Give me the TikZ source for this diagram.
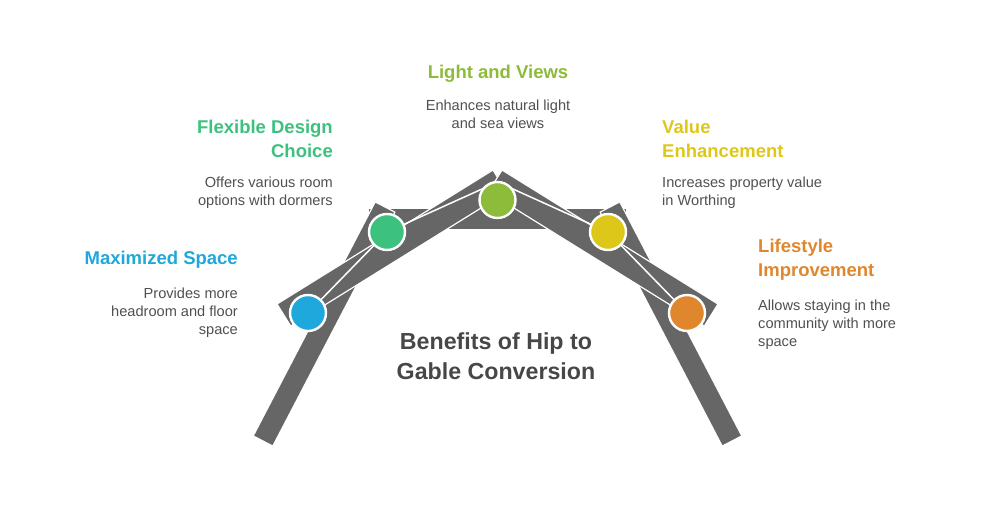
\documentclass[tikz,border=0pt]{standalone}
\usepackage{fontspec}
\setmainfont{Liberation Sans}
\definecolor{barg}{HTML}{666666}
\definecolor{cblue}{HTML}{1EA8DB}
\definecolor{cgreen}{HTML}{3CC17E}
\definecolor{clime}{HTML}{8DBB3A}
\definecolor{cyellow}{HTML}{DDC81A}
\definecolor{corange}{HTML}{E0872E}
\definecolor{btext}{HTML}{505050}
\definecolor{ttext}{HTML}{474747}
\tikzset{
  bar/.style={fill=barg, draw=white, line width=1.2pt, line join=miter},
  dot/.style={circle, draw=white, line width=2.4pt, minimum size=36pt, inner sep=0pt},
  link/.style={draw=white, line width=1.5pt, line join=round},
  head/.style={inner sep=0pt, font=\bfseries\fontsize{18.5}{24}\selectfont},
  body/.style={inner sep=0pt, text=btext, font=\fontsize{14.6}{18}\selectfont},
  ttl/.style={inner sep=0pt, text=ttext, align=center, font=\bfseries\fontsize{23.2}{30}\selectfont}
}
\begin{document}
\begin{tikzpicture}[x=1pt,y=-1pt]
\useasboundingbox (0,0) rectangle (996,528);
% beam
\fill[barg] (368,208) rectangle (627,230);
\draw[white, line width=1.2pt] (368,208) rectangle (627,230);
% legs
\draw[bar] (253.2,435.9) -- (272.8,446.1) -- (394.8,212.1) -- (375.2,201.9) -- cycle;
\draw[bar] (741.8,435.9) -- (722.2,446.1) -- (600.2,212.1) -- (619.8,201.9) -- cycle;
% slopes
\draw[bar] (277,304) -- (493,170) -- (506.7,192.1) -- (290.7,326.1) -- cycle;
\draw[bar] (718,304) -- (502,170) -- (488.3,192.1) -- (704.3,326.1) -- cycle;
% circle positions
\coordinate (p1) at (308,313);
\coordinate (p2) at (387,232);
\coordinate (p3) at (497.5,200);
\coordinate (p4) at (608,232);
\coordinate (p5) at (687,313);
\coordinate (ap) at (497.5,182);
% links
\draw[link] (p1) -- (p2) -- (ap) -- (p4) -- (p5);
% circles
\node[dot, fill=cblue]   (c1) at (p1) {};
\node[dot, fill=cgreen]  (c2) at (p2) {};
\node[dot, fill=clime]   (c3) at (p3) {};
\node[dot, fill=cyellow] (c4) at (p4) {};
\node[dot, fill=corange] (c5) at (p5) {};
% texts
\node[head, text=clime, anchor=north] (h3) at (498,65) {Light and Views};
\node[body, anchor=north, align=center] (b3) at (498,100) {Enhances natural light\\and sea views};
\node[head, text=cgreen, anchor=north east, align=right] (h2) at (333,120) {Flexible Design\\Choice};
\node[body, anchor=north east, align=right] (b2) at (333,177) {Offers various room\\options with dormers};
\node[head, text=cblue, anchor=north east, align=right] (h1) at (238,251) {Maximized Space};
\node[body, anchor=north east, align=right] (b1) at (238,288) {Provides more\\headroom and floor\\space};
\node[head, text=cyellow, anchor=north west, align=left] (h4) at (662,120) {Value\\Enhancement};
\node[body, anchor=north west, align=left] (b4) at (662,177) {Increases property value\\in Worthing};
\node[head, text=corange, anchor=north west, align=left] (h5) at (758,239) {Lifestyle\\Improvement};
\node[body, anchor=north west, align=left] (b5) at (758,300) {Allows staying in the\\community with more\\space};
\node[ttl, anchor=north] (t) at (496,332) {Benefits of Hip to\\Gable Conversion};
\end{tikzpicture}
\end{document}
